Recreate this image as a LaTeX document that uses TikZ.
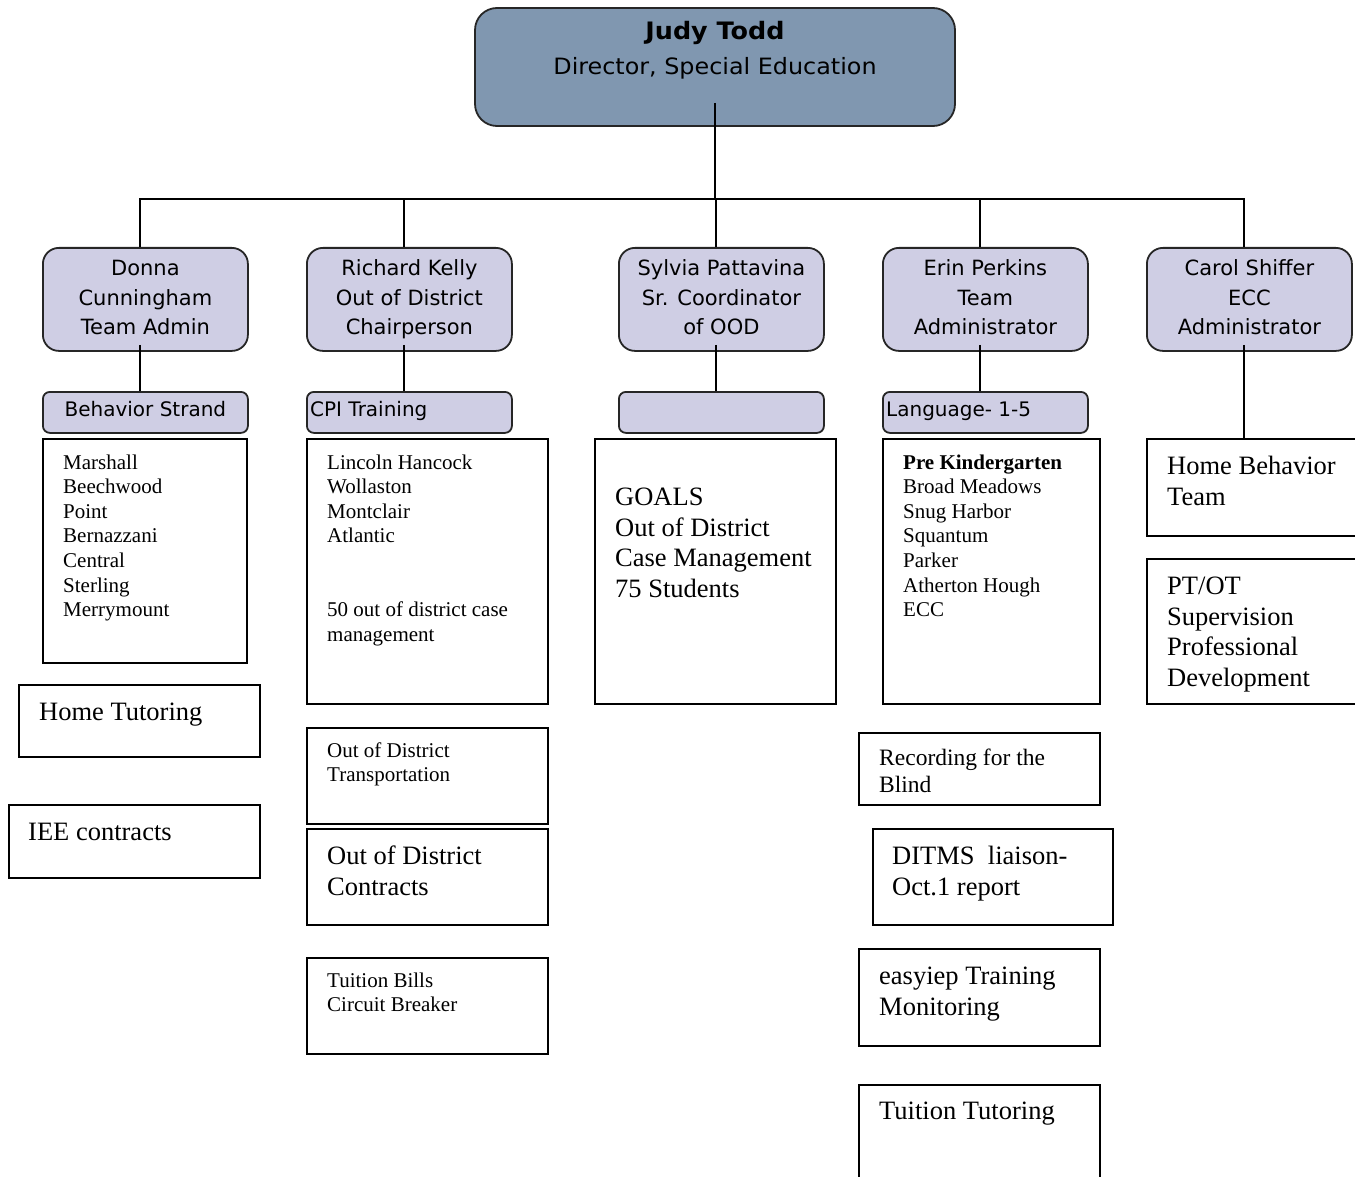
\documentclass[tikz,border=0pt]{standalone}
\usepackage{fontspec}
\setmainfont{Liberation Serif}
\newfontfamily\verdana{DejaVu Sans}
\newfontfamily\verdanawide[FakeStretch=1.06]{DejaVu Sans}
\definecolor{dirblue}{RGB}{128,151,176}
\definecolor{lilac}{RGB}{207,206,228}
\newcommand\rows[1]{\parbox[t]{300pt}{#1}}
\newcommand\crows[1]{\parbox[t]{400pt}{\centering #1}}
\tikzset{
  chief/.style={draw=black!85, line width=1.8pt, fill=dirblue, rounded corners=22pt,
    minimum width=480pt, minimum height=118pt, inner sep=0pt},
  lead/.style={draw=black!85, line width=1.8pt, fill=lilac, rounded corners=16pt,
    minimum width=205pt, minimum height=103pt, inner sep=0pt, anchor=north west},
  strand/.style={draw=black!85, line width=1.8pt, fill=lilac, rounded corners=7pt,
    minimum width=205pt, minimum height=41pt, inner sep=0pt, anchor=north west},
  cell/.style={draw, line width=1.8pt, inner sep=0pt, anchor=north west},
  chieftext/.style={font=\verdanawide\fontsize{22.5}{35}\selectfont, inner sep=0pt, anchor=base},
  leadtext/.style={font=\verdana\fontsize{21}{29.5}\selectfont, inner sep=0pt, anchor=base},
  striptext/.style={font=\verdana\fontsize{20}{24}\selectfont, inner sep=0pt},
  listtext/.style={font=\fontsize{21}{24.6}\selectfont, inner sep=0pt, anchor=base west},
  midtext/.style={font=\fontsize{23.5}{27}\selectfont, inner sep=0pt, anchor=base west},
  bigtext/.style={font=\fontsize{26.5}{30.6}\selectfont, inner sep=0pt, anchor=base west},
  link/.style={line width=1.6pt}
}
\begin{document}
\begin{tikzpicture}[x=1pt, y=-1pt]
\useasboundingbox (0,0) rectangle (1355,1177);
\clip (0,0) rectangle (1355,1177);

% director
\node[chief] (director) at (715,67) {};
\node[chieftext] (director-t) at ([yshift=-32pt]director.north)
  {\crows{{\bfseries\fontsize{24}{35}\selectfont Judy Todd}\\Director, Special Education}};

% five leads
\node[lead] (donna) at (42,247) {};
\node[lead] (richard) at (306,247) {};
\node[lead] (sylvia) at (618,247) {};
\node[lead] (erin) at (882,247) {};
\node[lead] (carol) at (1146,247) {};
\node[leadtext] (donna-t) at ([yshift=-29pt]donna.north) {\crows{Donna\\Cunningham\\Team Admin}};
\node[leadtext] (richard-t) at ([yshift=-29pt]richard.north) {\crows{Richard Kelly\\Out of District\\Chairperson}};
\node[leadtext] (sylvia-t) at ([yshift=-29pt]sylvia.north) {\crows{Sylvia Pattavina\\Sr. Coordinator\\of OOD}};
\node[leadtext] (erin-t) at ([yshift=-29pt]erin.north) {\crows{Erin Perkins\\Team\\Administrator}};
\node[leadtext] (carol-t) at ([yshift=-29pt]carol.north) {\crows{Carol Shiffer\\ECC\\Administrator}};

% strands
\node[strand] (behavior) at (42,391) {};
\node[strand] (cpi) at (306,391) {};
\node[strand] (oodstrand) at (618,391) {};
\node[strand] (language) at (882,391) {};
\node[striptext, anchor=base] (behavior-t) at ([yshift=-25pt]behavior.north) {Behavior Strand};
\node[striptext, anchor=base west] (cpi-t) at ([shift={(4,25)}]cpi.north west) {CPI Training};
\node[striptext, anchor=base west] (language-t) at ([shift={(4,25)}]language.north west) {Language- 1-5};

% duty boxes
\node[cell, minimum width=204pt, minimum height=224pt] (schools) at (42,438) {};
\node[cell, minimum width=241pt, minimum height=72pt] (hometutor) at (18,684) {};
\node[cell, minimum width=251pt, minimum height=73pt] (iee) at (8,804) {};
\node[cell, minimum width=241pt, minimum height=265pt] (placements) at (306,438) {};
\node[cell, minimum width=241pt, minimum height=96pt] (oodtransport) at (306,727) {};
\node[cell, minimum width=241pt, minimum height=96pt] (oodcontracts) at (306,828) {};
\node[cell, minimum width=241pt, minimum height=96pt] (tuitionbills) at (306,957) {};
\node[cell, minimum width=241pt, minimum height=265pt] (goals) at (594,438) {};
\node[cell, minimum width=217pt, minimum height=265pt] (prek) at (882,438) {};
\node[cell, minimum width=241pt, minimum height=72pt] (blind) at (858,732) {};
\node[cell, minimum width=240pt, minimum height=96pt] (ditms) at (872,828) {};
\node[cell, minimum width=241pt, minimum height=97pt] (easyiep) at (858,948) {};
\node[cell, minimum width=241pt, minimum height=130pt] (tuitiontutor) at (858,1084) {};
\node[cell, minimum width=240pt, minimum height=97pt] (homebehavior) at (1146,438) {};
\node[cell, minimum width=240pt, minimum height=145pt] (ptot) at (1146,558) {};

\node[listtext] (schools-t) at ([shift={(21,31)}]schools.north west)
  {\rows{Marshall\\Beechwood\\Point\\Bernazzani\\Central\\Sterling\\Merrymount}};
\node[bigtext] (hometutor-t) at ([shift={(21,36.5)}]hometutor.north west) {Home Tutoring};
\node[bigtext] (iee-t) at ([shift={(20,36.5)}]iee.north west) {IEE contracts};
\node[listtext] (placements-t) at ([shift={(21,31)}]placements.north west)
  {\rows{Lincoln Hancock\\Wollaston\\Montclair\\Atlantic\\[49.2pt]50 out of district case\\management}};
\node[listtext] (oodtransport-t) at ([shift={(21,30)}]oodtransport.north west) {\rows{Out of District\\Transportation}};
\node[bigtext] (oodcontracts-t) at ([shift={(21,36.5)}]oodcontracts.north west) {\rows{Out of District\\Contracts}};
\node[listtext] (tuitionbills-t) at ([shift={(21,30)}]tuitionbills.north west) {\rows{Tuition Bills\\Circuit Breaker}};
\node[bigtext] (goals-t) at ([shift={(21,67.5)}]goals.north west)
  {\rows{GOALS\\Out of District\\Case Management\\75 Students}};
\node[listtext] (prek-t) at ([shift={(21,31)}]prek.north west)
  {\rows{\textbf{Pre Kindergarten}\\Broad Meadows\\Snug Harbor\\Squantum\\Parker\\Atherton Hough\\ECC}};
\node[midtext] (blind-t) at ([shift={(21,33.5)}]blind.north west) {\rows{Recording for the\\Blind}};
\node[bigtext] (ditms-t) at ([shift={(20,36.5)}]ditms.north west) {\rows{DITMS\ \ liaison-\\Oct.1 report}};
\node[bigtext] (easyiep-t) at ([shift={(21,36.5)}]easyiep.north west) {\rows{easyiep Training\\Monitoring}};
\node[bigtext] (tuitiontutor-t) at ([shift={(21,35.5)}]tuitiontutor.north west) {Tuition Tutoring};
\node[bigtext] (homebehavior-t) at ([shift={(21,36.5)}]homebehavior.north west) {\rows{Home Behavior\\Team}};
\node[bigtext] (ptot-t) at ([shift={(21,36.5)}]ptot.north west)
  {\rows{PT/OT\\Supervision\\Professional\\Development}};

% connectors
\coordinate (bar) at (715,199);
\draw[link] ([yshift=24pt]director.south) -- (bar);
\foreach \n in {donna,richard,sylvia,erin,carol}
  \draw[link] ([xshift=-5.5pt]\n.north) |- (bar);
\foreach \n/\m in {donna/behavior,richard/cpi,sylvia/oodstrand,erin/language}
  \draw[link] ([xshift=-5.5pt,yshift=7pt]\n.south) -- ([xshift=-5.5pt]\m.north);
\coordinate (carol-drop) at ([xshift=-5.5pt,yshift=7pt]carol.south);
\draw[link] (carol-drop) -- (carol-drop |- homebehavior.north);

\end{tikzpicture}
\end{document}
